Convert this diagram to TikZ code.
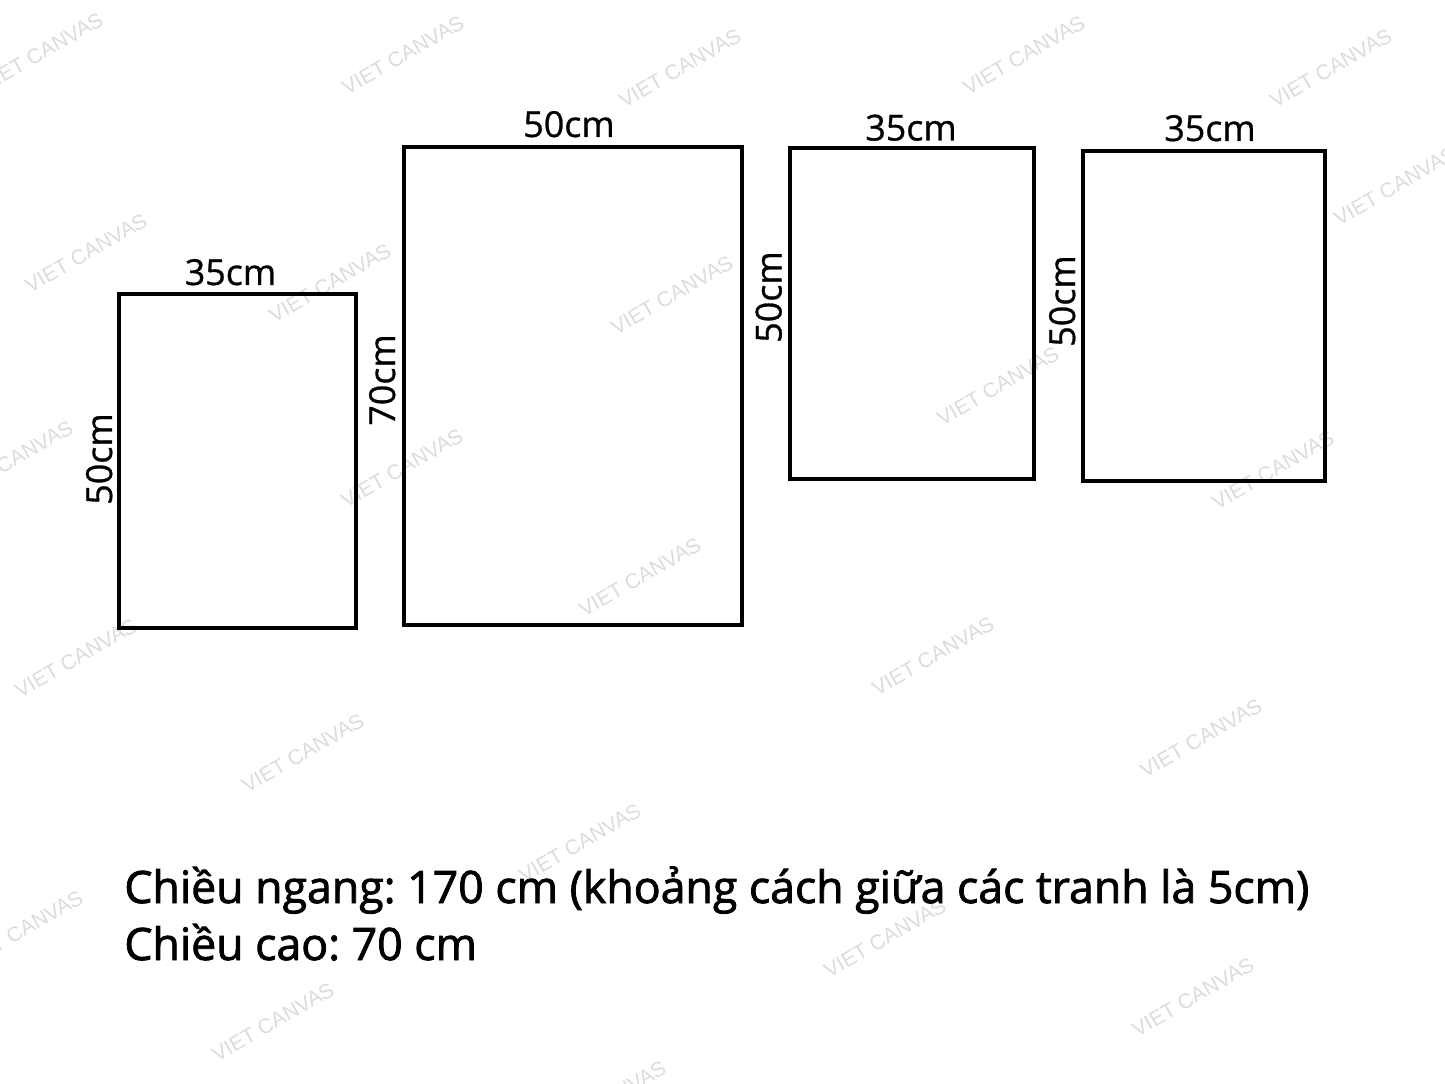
\documentclass[tikz,border=0pt]{standalone}
\usepackage{fontspec}
\setmainfont{Open Sans}
\newfontfamily\labelfont[FakeBold=0.8]{Open Sans}
\newfontfamily\infofont[FakeBold=1.8]{Open Sans}
\newfontfamily\wmfont{Liberation Sans}
\definecolor{wmgray}{HTML}{DCDCDC}
\frenchspacing
\tikzset{
  frame/.style={line width=2.3pt, draw=black},
  dimlabel/.style={font=\labelfont\fontsize{20.4}{24}\selectfont, inner sep=0pt, anchor=base, text=black},
  vdimlabel/.style={dimlabel, rotate=90},
  infotext/.style={font=\infofont\fontsize{25.4}{28}\selectfont, inner sep=0pt, anchor=base west, text=black},
  watermark/.style={font=\wmfont\fontsize{11.9}{14}\selectfont, text=wmgray, rotate=30, inner sep=0pt}
}
\begin{document}
\begin{tikzpicture}[x=0.02cm, y=-0.02cm]
\useasboundingbox (0,0) rectangle (1445,1084);
\fill[white] (0,0) rectangle (1445,1084);
\begin{scope}
\clip (0,0) rectangle (1445,1084);
\foreach \i/\px/\py in {1/42/52, 2/403/55, 3/680/68, 4/1024/55, 5/1331/68, 6/86/253, 7/330/283, 8/672/295, 9/1395/186, 10/12/460, 11/402/468, 12/998/386, 13/1273/470, 14/640/577, 15/76/658, 16/933/656, 17/303/753, 18/1201/738, 19/580/843, 20/885/938, 21/22/930, 22/273/1022, 23/1193/997, 24/605/1100}
  \node[watermark] (wm\i) at (\px,\py) {VIET CANVAS};
\end{scope}
% frames
\draw[frame] (119,294) rectangle (356,628);
\draw[frame] (404,147) rectangle (742,625);
\draw[frame] (790,148) rectangle (1034,479);
\draw[frame] (1083,151) rectangle (1325,481);
% labels
\node[dimlabel] (w1) at (230.5,285) {35cm};
\node[vdimlabel] (h1) at (112,459) {50cm};
\node[dimlabel] (w2) at (569,137) {50cm};
\node[vdimlabel] (h2) at (395,380) {70cm};
\node[dimlabel] (w3) at (911,140.5) {35cm};
\node[vdimlabel] (h3) at (781.5,297) {50cm};
\node[dimlabel] (w4) at (1210,141) {35cm};
\node[vdimlabel] (h4) at (1075,301) {50cm};
% info
\node[infotext] (info1) at (124,903) {Chiều ngang: 170 cm (khoảng cách giữa các tranh là 5cm)};
\node[infotext] (info2) at (124,960) {Chiều cao: 70 cm};
\end{tikzpicture}
\end{document}
